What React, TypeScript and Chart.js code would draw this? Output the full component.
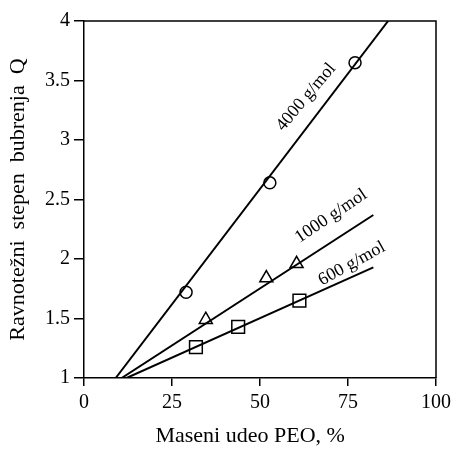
import React, { useEffect, useRef } from "react";
import { Chart, registerables } from "chart.js";

Chart.register(...registerables);

// Fitted lines (endpoints)
const line4000X = [9, 86.4];
const line4000Y = [1, 4];
const line1000X = [10.7, 82.2];
const line1000Y = [1, 2.37];
const line600X = [12.1, 82.2];
const line600Y = [1, 1.93];

// Measured points
const pts4000X = [29, 52.8, 77];
const pts4000Y = [1.72, 2.64, 3.65];
const pts1000X = [34.6, 51.8, 60.4];
const pts1000Y = [1.49, 1.84, 1.96];
const pts600X = [31.8, 43.8, 61.2];
const pts600Y = [1.26, 1.43, 1.65];

const xTicks = [0, 25, 50, 75, 100];
const yTicks = [1, 1.5, 2, 2.5, 3, 3.5, 4];

const labelTexts = ["4000 g/mol", "1000 g/mol", "600 g/mol"];
const labelX = [63.1, 70.2, 76.1];
const labelY = [3.36, 2.36, 1.96];
const labelAngle = [-50, -34, -29];

const xTitle = "Maseni udeo PEO, %";
const xTitleCenter = 47.2;
const yTitle = "Ravnotežni  stepen  bubrenja  Q";

const FONT = "'Liberation Serif', 'Times New Roman', serif";

const zip = (xs: number[], ys: number[]) => xs.map((x, i) => ({ x, y: ys[i] }));

export default function App() {
  const ref = useRef<HTMLCanvasElement | null>(null);
  useEffect(() => {
    if (!ref.current) return;
    const framePlugin = {
      id: "frame",
      afterDatasetsDraw(chart: any) {
        const { ctx, chartArea: a } = chart;
        ctx.save();
        ctx.strokeStyle = "#000";
        ctx.lineWidth = 1.5;
        ctx.beginPath();
        ctx.moveTo(a.left, a.top);
        ctx.lineTo(a.right, a.top);
        ctx.lineTo(a.right, a.bottom);
        ctx.stroke();
        ctx.restore();
      },
      afterDraw(chart: any) {
        const { ctx } = chart;
        const xs = chart.scales.x;
        const ys = chart.scales.y;
        ctx.save();
        ctx.fillStyle = "#000";
        ctx.font = `18px ${FONT}`;
        ctx.textAlign = "center";
        ctx.textBaseline = "middle";
        labelTexts.forEach((t, i) => {
          ctx.save();
          ctx.translate(xs.getPixelForValue(labelX[i]), ys.getPixelForValue(labelY[i]));
          ctx.rotate((labelAngle[i] * Math.PI) / 180);
          ctx.fillText(t, 0, 0);
          ctx.restore();
        });
        ctx.font = `22px ${FONT}`;
        ctx.textBaseline = "middle";
        ctx.fillText(xTitle, xs.getPixelForValue(xTitleCenter), chart.height - 14);
        ctx.restore();
      },
    };

    const lineDs = (xs: number[], ys: number[]) => ({
      data: zip(xs, ys),
      showLine: true,
      borderColor: "#000",
      borderWidth: 2,
      pointRadius: 0,
      fill: false,
    });
    const ptDs = (xs: number[], ys: number[], style: string, r: number) => ({
      data: zip(xs, ys),
      showLine: false,
      pointStyle: style,
      pointRadius: r,
      pointBackgroundColor: "#fff",
      pointBorderColor: "#000",
      pointBorderWidth: 1.5,
    });

    const chart = new Chart(ref.current, {
      type: "scatter",
      data: {
        datasets: [
          lineDs(line4000X, line4000Y),
          lineDs(line1000X, line1000Y),
          lineDs(line600X, line600Y),
          ptDs(pts4000X, pts4000Y, "circle", 6),
          ptDs(pts1000X, pts1000Y, "triangle", 7.5),
          ptDs(pts600X, pts600Y, "rect", 9),
        ] as any,
      },
      options: {
        animation: false,
        responsive: false,
        maintainAspectRatio: false,
        layout: { padding: { top: 21, right: 20, left: 0, bottom: 0 } },
        plugins: { legend: { display: false }, tooltip: { enabled: false } },
        scales: {
          x: {
            type: "linear",
            min: 0,
            max: 100,
            afterBuildTicks: (s: any) => {
              s.ticks = xTicks.map((v) => ({ value: v }));
            },
            afterFit: (s: any) => {
              s.height = 72;
            },
            grid: { display: true, drawOnChartArea: false, drawTicks: true, tickLength: 8, color: "#000", lineWidth: 1.5 },
            border: { display: true, color: "#000", width: 1.5 },
            ticks: { color: "#000", font: { family: FONT, size: 20 }, padding: 5, maxRotation: 0, callback: (v: any) => String(v) },
            title: { display: false },
          },
          y: {
            type: "linear",
            min: 1,
            max: 4,
            afterBuildTicks: (s: any) => {
              s.ticks = yTicks.map((v) => ({ value: v }));
            },
            afterFit: (s: any) => {
              s.width = 84;
            },
            grid: { display: true, drawOnChartArea: false, drawTicks: true, tickLength: 10, color: "#000", lineWidth: 1.5 },
            border: { display: true, color: "#000", width: 1.5 },
            ticks: { color: "#000", font: { family: FONT, size: 20 }, padding: 4, callback: (v: any) => String(v) },
            title: { display: true, text: yTitle, color: "#000", font: { family: FONT, size: 22 }, padding: { top: 5, bottom: 0 } },
          },
        },
      } as any,
      plugins: [framePlugin],
    });
    return () => chart.destroy();
  }, []);

  return (
    <div style={{ position: "absolute", left: 0, top: 0, width: 456, height: 450, background: "#fff" }}>
      <canvas ref={ref} width={456} height={450} style={{ display: "block" }} />
    </div>
  );
}
